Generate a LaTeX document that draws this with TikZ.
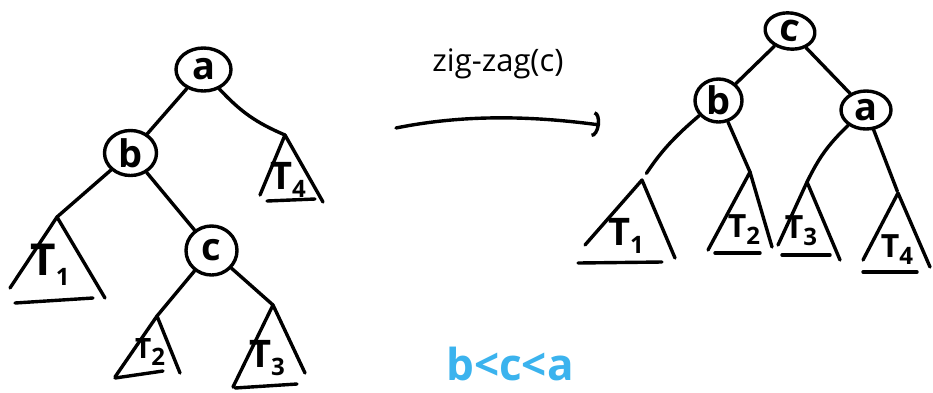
\documentclass[tikz,border=0pt]{standalone}
\usepackage{fontspec}
\setmainfont{Open Sans}
\usetikzlibrary{shapes.geometric,arrows.meta}
\newcommand{\tsub}[1]{T\raisebox{-0.22em}{\fontsize{24}{24}\selectfont #1}}
\begin{document}
\begin{tikzpicture}[x=1pt,y=-1pt,line width=3.4pt,line cap=round,line join=round,
  vert/.style={draw,ellipse,inner sep=0pt,font=\fontsize{38}{38}\selectfont\bfseries},
  tlabel/.style={inner sep=0pt,font=\fontsize{38}{38}\selectfont\bfseries},
  bluetext/.style={text=skyblue,font=\fontsize{44}{44}\selectfont\bfseries}]
\definecolor{skyblue}{HTML}{3BB3EE}
\useasboundingbox (0,0) rectangle (933,392);

% ---------- left tree ----------
\node[vert,minimum width=55pt,minimum height=43pt] (a) at (203.5,69.5) {a};
\node[vert,minimum width=52pt,minimum height=45pt] (b) at (130.5,153) {b};
\node[vert,minimum width=51pt,minimum height=49pt] (c) at (211.5,250.5) {c};

\coordinate (L1t) at (57,217);
\coordinate (L2t) at (157,316);
\coordinate (L3t) at (273,305);
\coordinate (L4t) at (285,135);

% triangles
\draw (10,288) -- (L1t) -- (105,298);
\draw (15,303) -- (93,298);
\node[tlabel,font=\fontsize{44}{44}\selectfont\bfseries] (lT1) at (50,265) {\tsub{1}};

\draw (115,377) -- (L2t) -- (180,373);
\draw (115,378) -- (163,371);
\node[tlabel,font=\fontsize{28}{28}\selectfont\bfseries] (lT2) at (150,352) {\tsub{2}};

\draw (233,387) -- (L3t) -- (305,373);
\draw (235,388) -- (297,384);
\node[tlabel] (lT3) at (267,358) {\tsub{3}};

\draw (260,195) -- (L4t) -- (323,202);
\draw (267,201) -- (315,199);
\node[tlabel] (lT4) at (288,180) {\tsub{4}};

% edges
\draw (a) -- (b);
\draw (a) to[bend right=12] (L4t);
\draw (b) -- (L1t);
\draw (b) -- (c);
\draw (c) -- (L2t);
\draw (c) -- (L3t);

% ---------- arrow ----------
\coordinate (arrS) at (396,128);
\coordinate (arrE) at (600,125);
\draw[-{Arc Barb[length=7pt,width=26pt]}] (arrS) .. controls (470,113) and (540,117) .. (arrE);
\node[font=\fontsize{31}{31}\selectfont] (zz) at (498,64) {zig-zag(c)};

% ---------- right tree ----------
\node[vert,minimum width=50pt,minimum height=36pt,rotate=-8] (c2) at (790,31) {c};
\node[vert,minimum width=47pt,minimum height=43pt] (b2) at (718.5,100.5) {b};
\node[vert,minimum width=50pt,minimum height=38pt] (a2) at (866,110) {a};

\coordinate (R1t) at (642,180);
\coordinate (R2t) at (750,172);
\coordinate (R3t) at (807,182);
\coordinate (R4t) at (898,193);

\draw (585,245) -- (R1t) -- (675,258);
\draw (578,263) -- (662,262);
\node[tlabel] (rT1) at (626,236) {\tsub{1}};

\draw (708,250) -- (R2t) -- (772,247);
\draw (715,253) -- (760,253);
\node[tlabel,font=\fontsize{32}{32}\selectfont\bfseries] (rT2) at (744,230) {\tsub{2}};

\draw (778,245) -- (R3t) -- (840,260);
\draw (782,255) -- (830,255);
\node[tlabel,font=\fontsize{32}{32}\selectfont\bfseries] (rT3) at (801,231) {\tsub{3}};

\draw (863,260) -- (R4t) -- (930,267);
\draw (863,272) -- (917,272);
\node[tlabel,font=\fontsize{32}{32}\selectfont\bfseries] (rT4) at (897,250) {\tsub{4}};

\draw (c2) -- (b2);
\draw (c2) -- (a2);
\draw[shorten >=8pt] (b2) to[bend right=8] (R1t);
\draw (b2) -- (R2t);
\draw (a2) to[bend right=10] (R3t);
\draw[shorten >=2pt] (a2) -- (R4t);

% ---------- order ----------
\node[bluetext] (ord) at (510,364) {b<c<a};
\end{tikzpicture}
\end{document}
